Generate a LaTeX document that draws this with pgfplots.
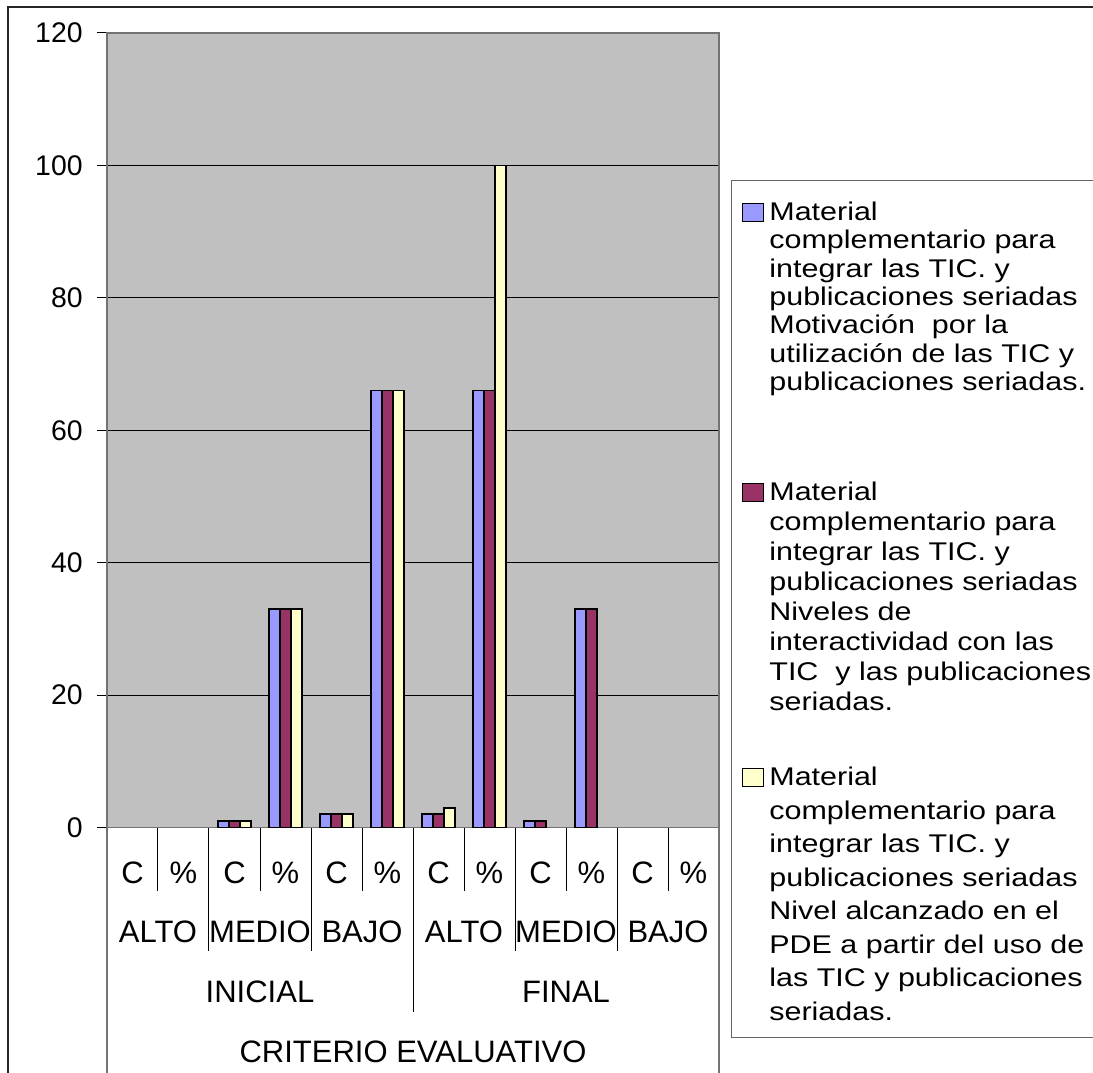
\documentclass[border=0pt]{standalone}
\usepackage{pgfplots}
\pgfplotsset{compat=1.18}
\usepackage{fontspec}
\setmainfont{Liberation Sans}
\newfontfamily\legfont{Liberation Sans}[FakeStretch=1.19]
\definecolor{barblue}{HTML}{9999FF}
\definecolor{barmaroon}{HTML}{993366}
\definecolor{baryellow}{HTML}{FFFFCC}
\definecolor{plotgray}{HTML}{C0C0C0}
\newcommand{\catfont}{\fontsize{15.5}{17}\selectfont}
\begin{document}
\begin{tikzpicture}
\useasboundingbox (0,0) rectangle (546.5pt,536pt);
\clip (0,0) rectangle (546.5pt,536pt);
\fill[white] (0,0) rectangle (546.5pt,536pt);
\draw[black!85, line width=0.6pt] (4pt,-20pt) rectangle (600pt,532.5pt);
\begin{axis}[
  at={(53.5pt,122.25pt)}, anchor=south west,
  scale only axis, width=306pt, height=397.25pt,
  xmin=-0.5, xmax=11.5, ymin=0, ymax=120,
  ytick={0,20,...,120}, xtick=\empty,
  ymajorgrids, grid style={black, line width=0.5pt},
  axis background/.style={fill=plotgray},
  axis line style={draw=black!55, line width=0.8pt},
  tick align=outside, ytick pos=left, major tick length=5pt,
  tick style={black, line width=0.5pt},
  yticklabel style={font=\fontsize{14.2}{16}\selectfont, inner sep=0pt, xshift=-7pt},
  /pgf/number format/assume math mode=true,
  ybar=0pt, bar width=5.6pt,
  every axis plot/.append style={draw=black, line width=0.9pt},
  y filter/.expression={y==0 ? nan : y},
  clip=false,
  legend image code/.code={\draw[#1, line width=0.9pt] (0pt,-0.5pt) rectangle (10.5pt,8.5pt);},
  legend style={at={(axis description cs:1.01961,0.81498)}, anchor=north west,
    draw=black!60, line width=0.6pt, fill=white, inner xsep=5pt, inner ysep=5pt,
    row sep=0pt, column sep=2.5pt, cells={anchor=base west}, nodes={inner sep=0pt}},
]
\addplot[fill=barblue] coordinates {(0,0) (1,0) (2,1) (3,33) (4,2) (5,66) (6,2) (7,66) (8,1) (9,33) (10,0) (11,0)};
\addlegendentry[text height=15pt, text depth=130pt]{\parbox[t]{200pt}{\raggedright\legfont\fontsize{12.8}{14.15}\selectfont Material\\complementario para\\integrar las TIC. y\\publicaciones seriadas\\Motivación\ \ por la\\utilización de las TIC y\\publicaciones seriadas.}}
\addplot[fill=barmaroon] coordinates {(0,0) (1,0) (2,1) (3,33) (4,2) (5,66) (6,2) (7,66) (8,1) (9,33) (10,0) (11,0)};
\addlegendentry[text height=10pt, text depth=132.5pt]{\parbox[t]{200pt}{\raggedright\legfont\fontsize{12.8}{15}\selectfont Material\\complementario para\\integrar las TIC. y\\publicaciones seriadas\\Niveles de\\interactividad con las\\TIC\ \ y las publicaciones\\seriadas.}}
\addplot[fill=baryellow] coordinates {(0,0) (1,0) (2,1) (3,33) (4,2) (5,66) (6,3) (7,100) (8,0) (9,0) (10,0) (11,0)};
\addlegendentry[text height=10pt, text depth=121pt]{\parbox[t]{200pt}{\raggedright\legfont\fontsize{12.8}{16.75}\selectfont Material\\complementario para\\integrar las TIC. y\\publicaciones seriadas\\Nivel alcanzado en el\\PDE a partir del uso de\\las TIC y publicaciones\\seriadas.}}
% category separators
\pgfplotsinvokeforeach{0.5,2.5,4.5,6.5,8.5,10.5}{\draw[black, line width=0.5pt] (axis cs:#1,0) -- ++(0pt,-31.75pt);}
\pgfplotsinvokeforeach{1.5,3.5,7.5,9.5}{\draw[black, line width=0.5pt] (axis cs:#1,0) -- ++(0pt,-61.75pt);}
\draw[black, line width=0.5pt] (axis cs:5.5,0) -- ++(0pt,-92pt);
\draw[black!55, line width=0.8pt] (axis cs:-0.5,0) -- ++(0pt,-140pt);
\draw[black!55, line width=0.8pt] (axis cs:11.5,0) -- ++(0pt,-140pt);
% category labels
\pgfplotsinvokeforeach{0,2,4,6,8,10}{\node[font=\catfont, inner sep=0pt, anchor=center] at (axis cs:#1,0) [yshift=-22.75pt] {C};}
\pgfplotsinvokeforeach{1,3,5,7,9,11}{\node[font=\catfont, inner sep=0pt, anchor=center] at (axis cs:#1,0) [yshift=-22.75pt] {\%};}
\node[font=\catfont, inner sep=0pt] at (axis cs:0.5,0) [yshift=-52.25pt] {ALTO};
\node[font=\catfont, inner sep=0pt] at (axis cs:2.5,0) [yshift=-52.25pt] {MEDIO};
\node[font=\catfont, inner sep=0pt] at (axis cs:4.5,0) [yshift=-52.25pt] {BAJO};
\node[font=\catfont, inner sep=0pt] at (axis cs:6.5,0) [yshift=-52.25pt] {ALTO};
\node[font=\catfont, inner sep=0pt] at (axis cs:8.5,0) [yshift=-52.25pt] {MEDIO};
\node[font=\catfont, inner sep=0pt] at (axis cs:10.5,0) [yshift=-52.25pt] {BAJO};
\node[font=\catfont, inner sep=0pt] at (axis cs:2.5,0) [yshift=-82.25pt] {INICIAL};
\node[font=\catfont, inner sep=0pt] at (axis cs:8.5,0) [yshift=-82.25pt] {FINAL};
\node[font=\catfont, inner sep=0pt] at (axis cs:5.5,0) [yshift=-112.25pt] {CRITERIO EVALUATIVO};
\end{axis}
\end{tikzpicture}
\end{document}
